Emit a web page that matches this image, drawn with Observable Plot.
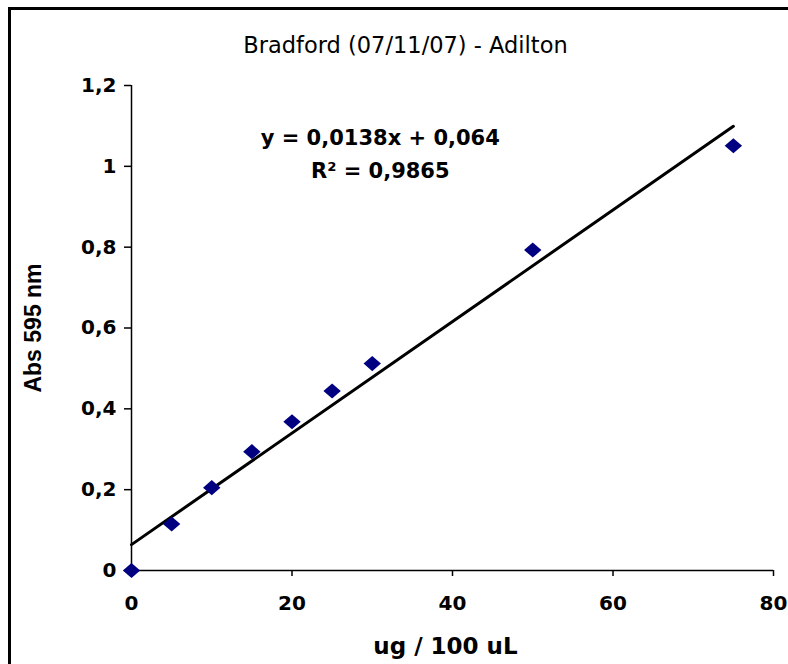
<!DOCTYPE html>
<html><head><meta charset="utf-8">
<script src="https://cdn.jsdelivr.net/npm/d3@7"></script>
<script src="https://cdn.jsdelivr.net/npm/@observablehq/plot@0.6"></script>
<style>
html,body{margin:0;padding:0;background:#fff;overflow:hidden}
#wrap{position:relative;width:788px;height:664px;overflow:hidden;background:#fff}
#border{position:absolute;left:8px;top:7px;width:900px;height:800px;border-left:3px solid #000;border-top:3px solid #000;pointer-events:none}
#wrap svg{position:absolute;left:0;top:0}
</style></head><body><div id="wrap"><div id="border"></div></div>
<script>
// ---- data ----
const titleText = "Bradford (07/11/07) - Adilton";
const xLabel = "ug / 100 uL";
const yLabel = "Abs 595 nm";
const concentrations = [0, 5, 10, 15, 20, 25, 30, 50, 75];
const absorbances = [0, 0.115, 0.205, 0.294, 0.368, 0.444, 0.512, 0.793, 1.051];
const fitSlope = 0.0138;
const fitIntercept = 0.064;
const equationText = "y = 0,0138x + 0,064";
const r2Text = "R\u00B2 = 0,9865";
const xTicks = [0, 20, 40, 60, 80];
const yTicks = [0, 0.2, 0.4, 0.6, 0.8, 1, 1.2];
const annotationX = 31;
const equationY = 1.054;
const r2Y = 0.972;

// ---- derived tables ----
const points = concentrations.map((x, i) => ({x, y: absorbances[i]}));
const fitLine = d3.extent(concentrations).map(x => ({x, y: fitSlope * x + fitIntercept}));
const annotations = [
  {x: annotationX, y: equationY, label: equationText},
  {x: annotationX, y: r2Y, label: r2Text}
];
const fmt = d => String(d).replace(".", ",");

// diamond slightly wider than tall
const diamond = {
  draw(context, size) {
    const w = Math.sqrt(size / Math.PI);
    const h = w * 0.87;
    context.moveTo(0, -h);
    context.lineTo(w, 0);
    context.lineTo(0, h);
    context.lineTo(-w, 0);
    context.closePath();
  }
};

const chart = Plot.plot({
  width: 788,
  height: 664,
  marginLeft: 131,
  marginRight: 15,
  marginTop: 85,
  marginBottom: 94,
  style: {fontFamily: "'DejaVu Sans', sans-serif", fontWeight: "bold", fontSize: "20px", color: "#000", background: "transparent", overflow: "visible"},
  x: {domain: [0, 80]},
  y: {domain: [0, 1.2]},
  marks: [
    Plot.axisX({ticks: xTicks, tickSize: 6, tickPadding: 19, label: null, strokeWidth: 1.5, tickFormat: fmt}),
    Plot.axisY({ticks: yTicks, tickSize: 7, tickPadding: 8, label: null, strokeWidth: 1.5, tickFormat: fmt}),
    Plot.ruleX([0], {stroke: "#000", strokeWidth: 1.5}),
    Plot.ruleY([0], {stroke: "#000", strokeWidth: 1.5}),
    Plot.line(fitLine, {x: "x", y: "y", stroke: "#000", strokeWidth: 3}),
    Plot.dot(points, {x: "x", y: "y", symbol: diamond, r: 8.7, fill: "#000080", stroke: "none"}),
    Plot.text(annotations, {x: "x", y: "y", text: "label", lineAnchor: "bottom", fontSize: 21, fontWeight: "bold"}),
    Plot.text([titleText], {frameAnchor: "top", textAnchor: "middle", dy: -33, dx: -47, lineAnchor: "bottom", fontFamily: "'DejaVu Sans', sans-serif", fontWeight: "normal", fontSize: 22.5}),
    Plot.text([xLabel], {frameAnchor: "bottom", textAnchor: "middle", dy: 83, dx: -7, lineAnchor: "bottom", fontSize: 23, fontWeight: "bold"}),
    Plot.text([yLabel], {frameAnchor: "left", textAnchor: "middle", dx: -98, rotate: -90, fontFamily: "'Liberation Sans', Arial, sans-serif", fontSize: 23, fontWeight: "bold"})
  ]
});
document.getElementById("wrap").appendChild(chart);
</script>
</body></html>
